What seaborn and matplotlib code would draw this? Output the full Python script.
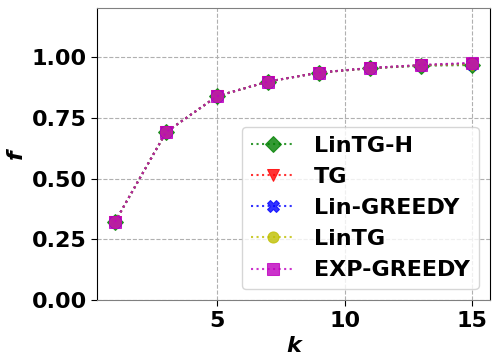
import numpy as np
import pandas as pd
import matplotlib
matplotlib.use("Agg")
import matplotlib.pyplot as plt
import seaborn as sns

# ── Data ──────────────────────────────────────────────────────────────────────
k_values    = [1, 3, 5, 7, 9, 11, 13, 15]
lintg_h     = [0.322, 0.690, 0.838, 0.898, 0.935, 0.953, 0.963, 0.966]
tg          = [0.322, 0.690, 0.838, 0.898, 0.935, 0.953, 0.965, 0.972]
lin_greedy  = [0.322, 0.690, 0.838, 0.898, 0.935, 0.953, 0.965, 0.972]
lintg       = [0.322, 0.690, 0.838, 0.898, 0.935, 0.953, 0.965, 0.970]
exp_greedy  = [0.322, 0.690, 0.838, 0.898, 0.935, 0.954, 0.966, 0.975]

series_names = ["LinTG-H", "TG", "Lin-GREEDY", "LinTG", "EXP-GREEDY"]
series_vals  = [lintg_h, tg, lin_greedy, lintg, exp_greedy]
colors       = ["g", "r", "b", "y", "m"]
markers      = ["D", "v", "X", "o", "s"]

# ── Plot ──────────────────────────────────────────────────────────────────────
sns.set_style("whitegrid", {"grid.linestyle": "--", "grid.color": "#b0b0b0",
                            "text.color": "black", "axes.labelcolor": "black",
                            "xtick.color": "black", "ytick.color": "black"})
plt.rcParams["font.family"] = ["DejaVu Sans"]
plt.rcParams["font.weight"] = "bold"

fig, ax = plt.subplots(figsize=(4.98, 3.64), dpi=100)

for name, vals, c, m in zip(series_names, series_vals, colors, markers):
    df = pd.DataFrame({"k": k_values, "f": vals})
    sns.lineplot(data=df, x="k", y="f", ax=ax, color=c, marker=m,
                 linestyle=":", markersize=8, alpha=0.8, label=name,
                 markeredgecolor=c, linewidth=1.5)

ax.set_ylim(0, 1.2)
ax.set_yticks([0.0, 0.25, 0.5, 0.75, 1.0])
ax.set_xticks([5, 10, 15])
ax.tick_params(labelsize=16, length=4, left=True, bottom=True, colors="black")
for lab in ax.get_xticklabels() + ax.get_yticklabels():
    lab.set_fontweight("bold")
ax.set_xlabel("k", fontsize=16, fontweight="bold", style="italic", color="black")
ax.set_ylabel("f", fontsize=16, fontweight="bold", style="italic", color="black")

for side in ["left", "right"]:
    ax.spines[side].set_color("black")
for side in ["top", "bottom"]:
    ax.spines[side].set_color("#808080")
ax.grid(True, linestyle="--", color="#b0b0b0", linewidth=0.8)

leg = ax.legend(loc="lower right", prop={"size": 16, "weight": "bold"},
                handlelength=2.0, labelspacing=0.5, handletextpad=0.85,
                borderaxespad=0.5)
for t in leg.get_texts():
    t.set_color("black")

plt.subplots_adjust(left=0.195, right=0.984, top=0.978, bottom=0.175)
plt.savefig("out.png", dpi=100)
